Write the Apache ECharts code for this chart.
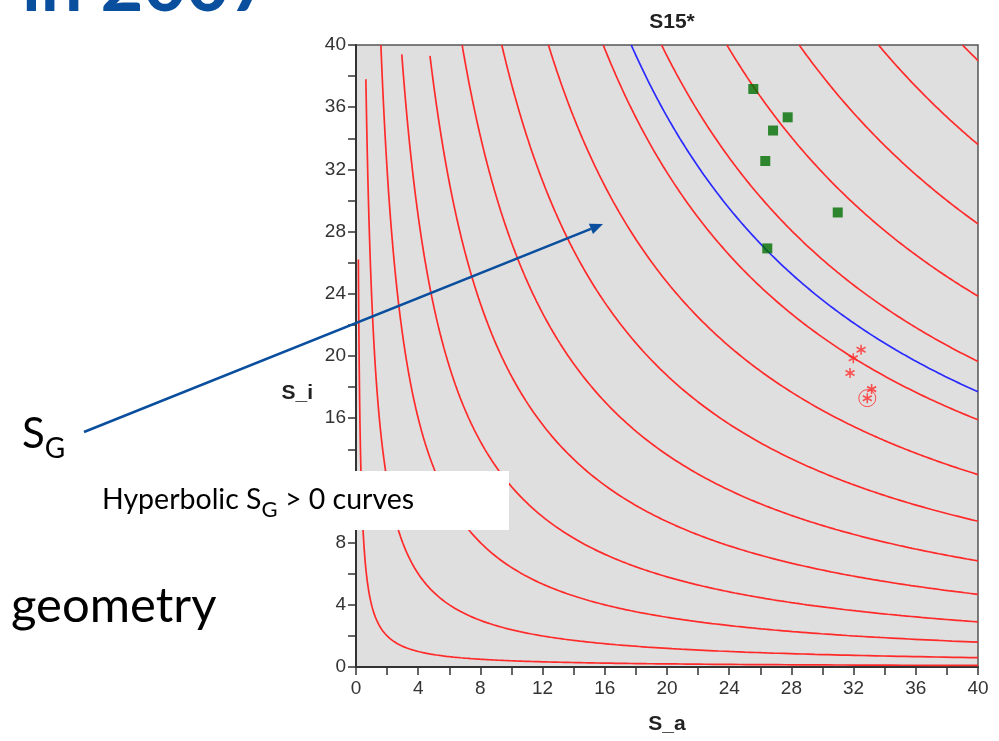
<!DOCTYPE html>
<html><head><meta charset="utf-8">
<script src="https://cdn.jsdelivr.net/npm/echarts@6/dist/echarts.min.js"></script>
<style>html,body{margin:0;padding:0;background:#fff}#c{width:999px;height:741px}</style>
</head><body><div id="c"></div>
<script>
// ---- data ----
const axisTickLabels = [0, 4, 8, 12, 16, 20, 24, 28, 32, 36, 40];
// contour levels (S_a * S_i) of the red hyperbolic curves
const curveLevels = [4, 24, 64, 116, 187, 273, 375, 495, 636, 786, 954, 1140, 1344, 1560];
// highest S_i reached by each red curve (some are cut before the top border)
const curveTopY = [26.2, 37.8, 40, 39.4, 39.3, 40, 40, 40, 40, 40, 40, 40, 40, 40];
const blueLevel = 708;
const blueTopY = 40;
const greenSquares = [[25.55, 37.17], [27.76, 35.35], [26.82, 34.5], [26.32, 32.54], [30.98, 29.23], [26.45, 26.92]];
const redStars = [[32.48, 20.4], [31.98, 19.86], [31.77, 18.9], [33.16, 17.87], [32.88, 17.29]];
const circledStar = [[32.88, 17.29]];

function hyperbola(c, topY) {
  const pts = [];
  const x0 = c / topY, x1 = 40, n = 300;
  for (let i = 0; i <= n; i++) {
    const x = x0 * Math.pow(x1 / x0, i / n);
    pts.push([x, c / x]);
  }
  return pts;
}

const chart = echarts.init(document.getElementById('c'), null, {renderer: 'canvas'});
const RED = '#ff2a2a';
const series = curveLevels.map((c, i) => ({
  type: 'line', data: hyperbola(c, curveTopY[i]), symbol: 'none', silent: true,
  lineStyle: {color: RED, width: 1.7}, z: 2
}));
series.push({
  type: 'line', data: hyperbola(blueLevel, blueTopY), symbol: 'none', silent: true,
  lineStyle: {color: '#2a2aff', width: 1.7}, z: 3
});
series.push({
  type: 'scatter', data: greenSquares, symbol: 'rect', symbolSize: 10,
  itemStyle: {color: '#006e00'}, z: 4
});
const starPath = 'path://M0,-5L0,5M-4.33,-2.5L4.33,2.5M-4.33,2.5L4.33,-2.5';
series.push({
  type: 'scatter', data: redStars, symbol: starPath, symbolSize: [9, 10],
  itemStyle: {color: 'rgba(0,0,0,0)', borderColor: RED, borderWidth: 1.6}, z: 5
});
series.push({
  type: 'scatter', data: circledStar, symbol: 'circle', symbolSize: 17,
  itemStyle: {color: 'rgba(0,0,0,0)', borderColor: RED, borderWidth: 1}, z: 5
});

const axisCommon = {
  type: 'value', min: 0, max: 40, interval: 2,
  axisLine: {show: true, onZero: false, lineStyle: {color: '#333', width: 2}},
  axisTick: {show: true, length: 8, lineStyle: {color: '#333', width: 1.5}},
  splitLine: {show: false},
  axisLabel: {
    formatter: v => axisTickLabels.includes(v) ? String(v) : '',
    fontSize: 19, color: '#333', fontFamily: 'Liberation Sans'
  },
  nameLocation: 'middle',
  nameTextStyle: {fontWeight: 'bold', fontSize: 21, color: '#222', fontFamily: 'Liberation Sans'}
};

const mctx = document.createElement('canvas').getContext('2d');
function tw(font, s) { mctx.font = font; return mctx.measureText(s).width; }

const BLUE = '#0a4f9e';
const fHyp = '28.5px Lato', fSub = '22px Lato';
const xHyp = 102;
const wHyp = tw(fHyp, 'Hyperbolic S');
const wSub = tw(fSub, 'G');
const fS = '42px Lato', fG = '28px Lato';
const wS = tw(fS, 'S');

// arrow geometry
const ax0 = 84, ay0 = 432, ax1 = 603, ay1 = 224;
const L = Math.hypot(ax1 - ax0, ay1 - ay0);
const ux = (ax1 - ax0) / L, uy = (ay1 - ay0) / L;
const hl = 13, hw = 5.5;
const bx = ax1 - ux * hl, by = ay1 - uy * hl;

chart.setOption({
  animation: false,
  title: {
    text: 'S15*', left: 667, top: 7, textAlign: 'center',
    textStyle: {fontWeight: 'bold', fontSize: 21, color: '#222', fontFamily: 'Liberation Sans'}
  },
  grid: {left: 356, top: 45, width: 622, height: 622, show: true,
    backgroundColor: '#dfdfdf', borderColor: '#555', borderWidth: 1.5},
  xAxis: Object.assign({}, axisCommon, {
    name: 'S_a', nameGap: 47,
    axisLabel: Object.assign({}, axisCommon.axisLabel, {margin: 12})
  }),
  yAxis: Object.assign({}, axisCommon, {
    axisLabel: Object.assign({}, axisCommon.axisLabel, {margin: 10})
  }),
  series: series,
  graphic: [
    {type: 'text', z: 100, style: {text: 'S_i', x: 313, y: 393, align: 'right', verticalAlign: 'middle',
      font: 'bold 21px "Liberation Sans"', fill: '#222'}},
    {type: 'text', z: 100, style: {text: 'in 2007', x: 22, y: -13, font: 'bold 74px Lato', fill: BLUE, verticalAlign: 'middle'}},
    {type: 'text', z: 100, style: {text: 'S', x: 22, y: 434, font: fS, fill: '#000', verticalAlign: 'middle'}},
    {type: 'text', z: 100, style: {text: 'G', x: 22 + wS, y: 449, font: fG, fill: '#000', verticalAlign: 'middle'}},
    {type: 'line', z: 100, shape: {x1: ax0, y1: ay0, x2: bx, y2: by}, style: {stroke: BLUE, lineWidth: 2.5}},
    {type: 'polygon', z: 100, shape: {points: [[ax1, ay1], [bx - uy * hw, by + ux * hw], [bx + uy * hw, by - ux * hw]]}, style: {fill: BLUE}},
    {type: 'rect', z: 100, shape: {x: 96, y: 471, width: 413, height: 59}, style: {fill: '#fff'}},
    {type: 'text', z: 101, style: {text: 'Hyperbolic S', x: xHyp, y: 500, font: fHyp, fill: '#000', verticalAlign: 'middle'}},
    {type: 'text', z: 101, style: {text: 'G', x: xHyp + wHyp, y: 510, font: fSub, fill: '#000', verticalAlign: 'middle'}},
    {type: 'text', z: 101, style: {text: ' > 0 curves', x: xHyp + wHyp + wSub, y: 500, font: fHyp, fill: '#000', verticalAlign: 'middle'}},
    {type: 'text', z: 100, style: {text: 'geometry', x: 11, y: 606, font: '49px Lato', fill: '#000', verticalAlign: 'middle'}}
  ]
});
</script></body></html>
